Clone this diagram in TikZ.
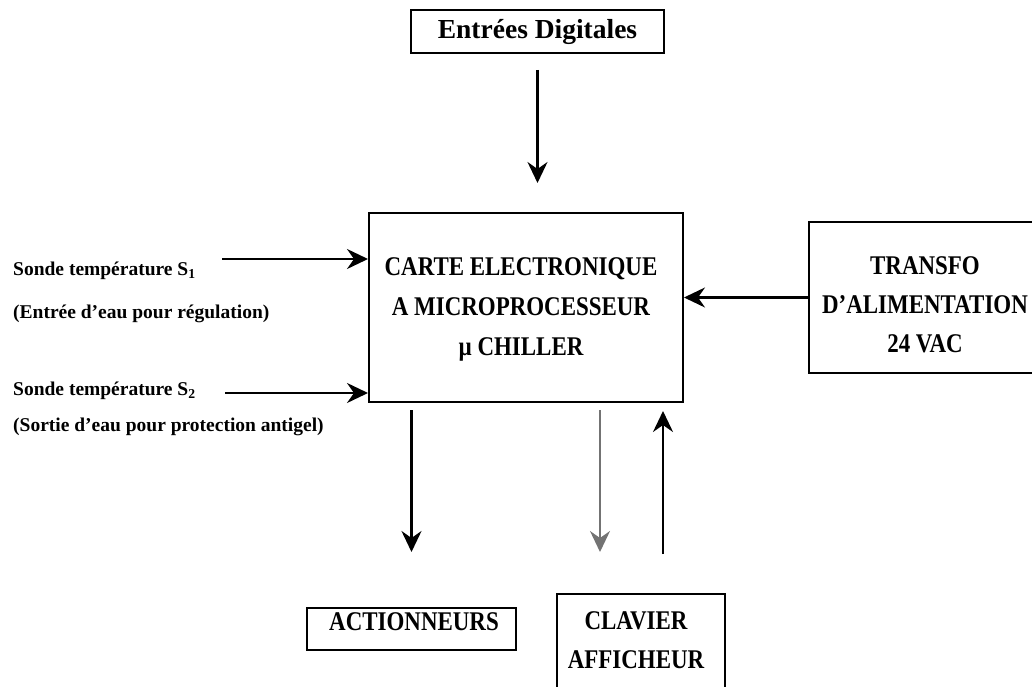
\documentclass[tikz,border=0pt]{standalone}
\usepackage{fontspec}
\setmainfont{Liberation Serif}
\newfontfamily\capsfont[FakeStretch=0.85]{Liberation Serif}
\usetikzlibrary{arrows.meta}
\begin{document}
\begin{tikzpicture}[x=1pt,y=-1pt,
  box/.style={draw, line width=2pt, inner sep=0pt},
  arr/.style={line width=2.3pt, -{Stealth[length=21pt,width=20pt,inset=7pt]}},
  greyarr/.style={arr, draw=black!55, line width=1.8pt},
  captxt/.style={font=\capsfont\bfseries\fontsize{27}{40}\selectfont, align=center, inner sep=0pt},
  lbl/.style={font=\bfseries\fontsize{19.5}{23}\selectfont, anchor=base west, inner sep=0pt}]
\useasboundingbox (0,0) rectangle (1032,687);
\clip (0,0) rectangle (1032,687);

% boxes
\node[box, minimum width=253pt, minimum height=43pt,
      font=\bfseries\fontsize{27.5}{33}\selectfont] (ent) at (537.5,31.5) {Entrées Digitales};
\node[box, minimum width=314pt, minimum height=189pt] (main) at (526,307.5) {};
\node[captxt] (maintxt) at (521,309) {CARTE ELECTRONIQUE\\A MICROPROCESSEUR\\µ CHILLER};
\node[box, minimum width=232pt, minimum height=151pt] (tr) at (925,297.5) {};
\node[captxt, font=\capsfont\bfseries\fontsize{27}{39}\selectfont] (trtxt) at (925,305) {TRANSFO\\D’ALIMENTATION\\24 VAC};
\node[box, minimum width=209pt, minimum height=42pt] (act) at (411.5,629) {};
\node[captxt, anchor=base] (acttxt) at (414,630) {ACTIONNEURS};
\node[box, minimum width=168pt, minimum height=106pt] (clav) at (641,647) {};
\node[captxt, font=\capsfont\bfseries\fontsize{27}{39}\selectfont] (clavtxt) at (636,640.5) {CLAVIER\\AFFICHEUR};

% left labels
\node[lbl] (l1) at (13,275) {Sonde température S\textsubscript{1}};
\node[lbl] (l2) at (13,318) {(Entrée d’eau pour régulation)};
\node[lbl] (l3) at (13,395) {Sonde température S\textsubscript{2}};
\node[lbl] (l4) at (13,431) {(Sortie d’eau pour protection antigel)};

% connectors
\coordinate (s1) at (222,259);
\coordinate (s2) at (225,393);
\draw[arr] (s1) -- (s1 -| main.west);
\draw[arr] (s2) -- (s2 -| main.west);
\draw[arr] (tr.west) -- (tr.west -| main.east);
\draw[arr, shorten <=16pt, shorten >=29pt] (ent.south) -- (ent.south |- main.north);
\draw[arr, shorten <=7pt, shorten >=55pt] (main.south -| act.north) -- (act.north);
\draw[greyarr, shorten <=7pt, shorten >=41pt] ([xshift=-41pt]clav.north |- main.south) -- ([xshift=-41pt]clav.north);
\draw[arr, shorten <=39pt, shorten >=8pt] ([xshift=22pt]clav.north) -- ([xshift=22pt]clav.north |- main.south);
\end{tikzpicture}
\end{document}
